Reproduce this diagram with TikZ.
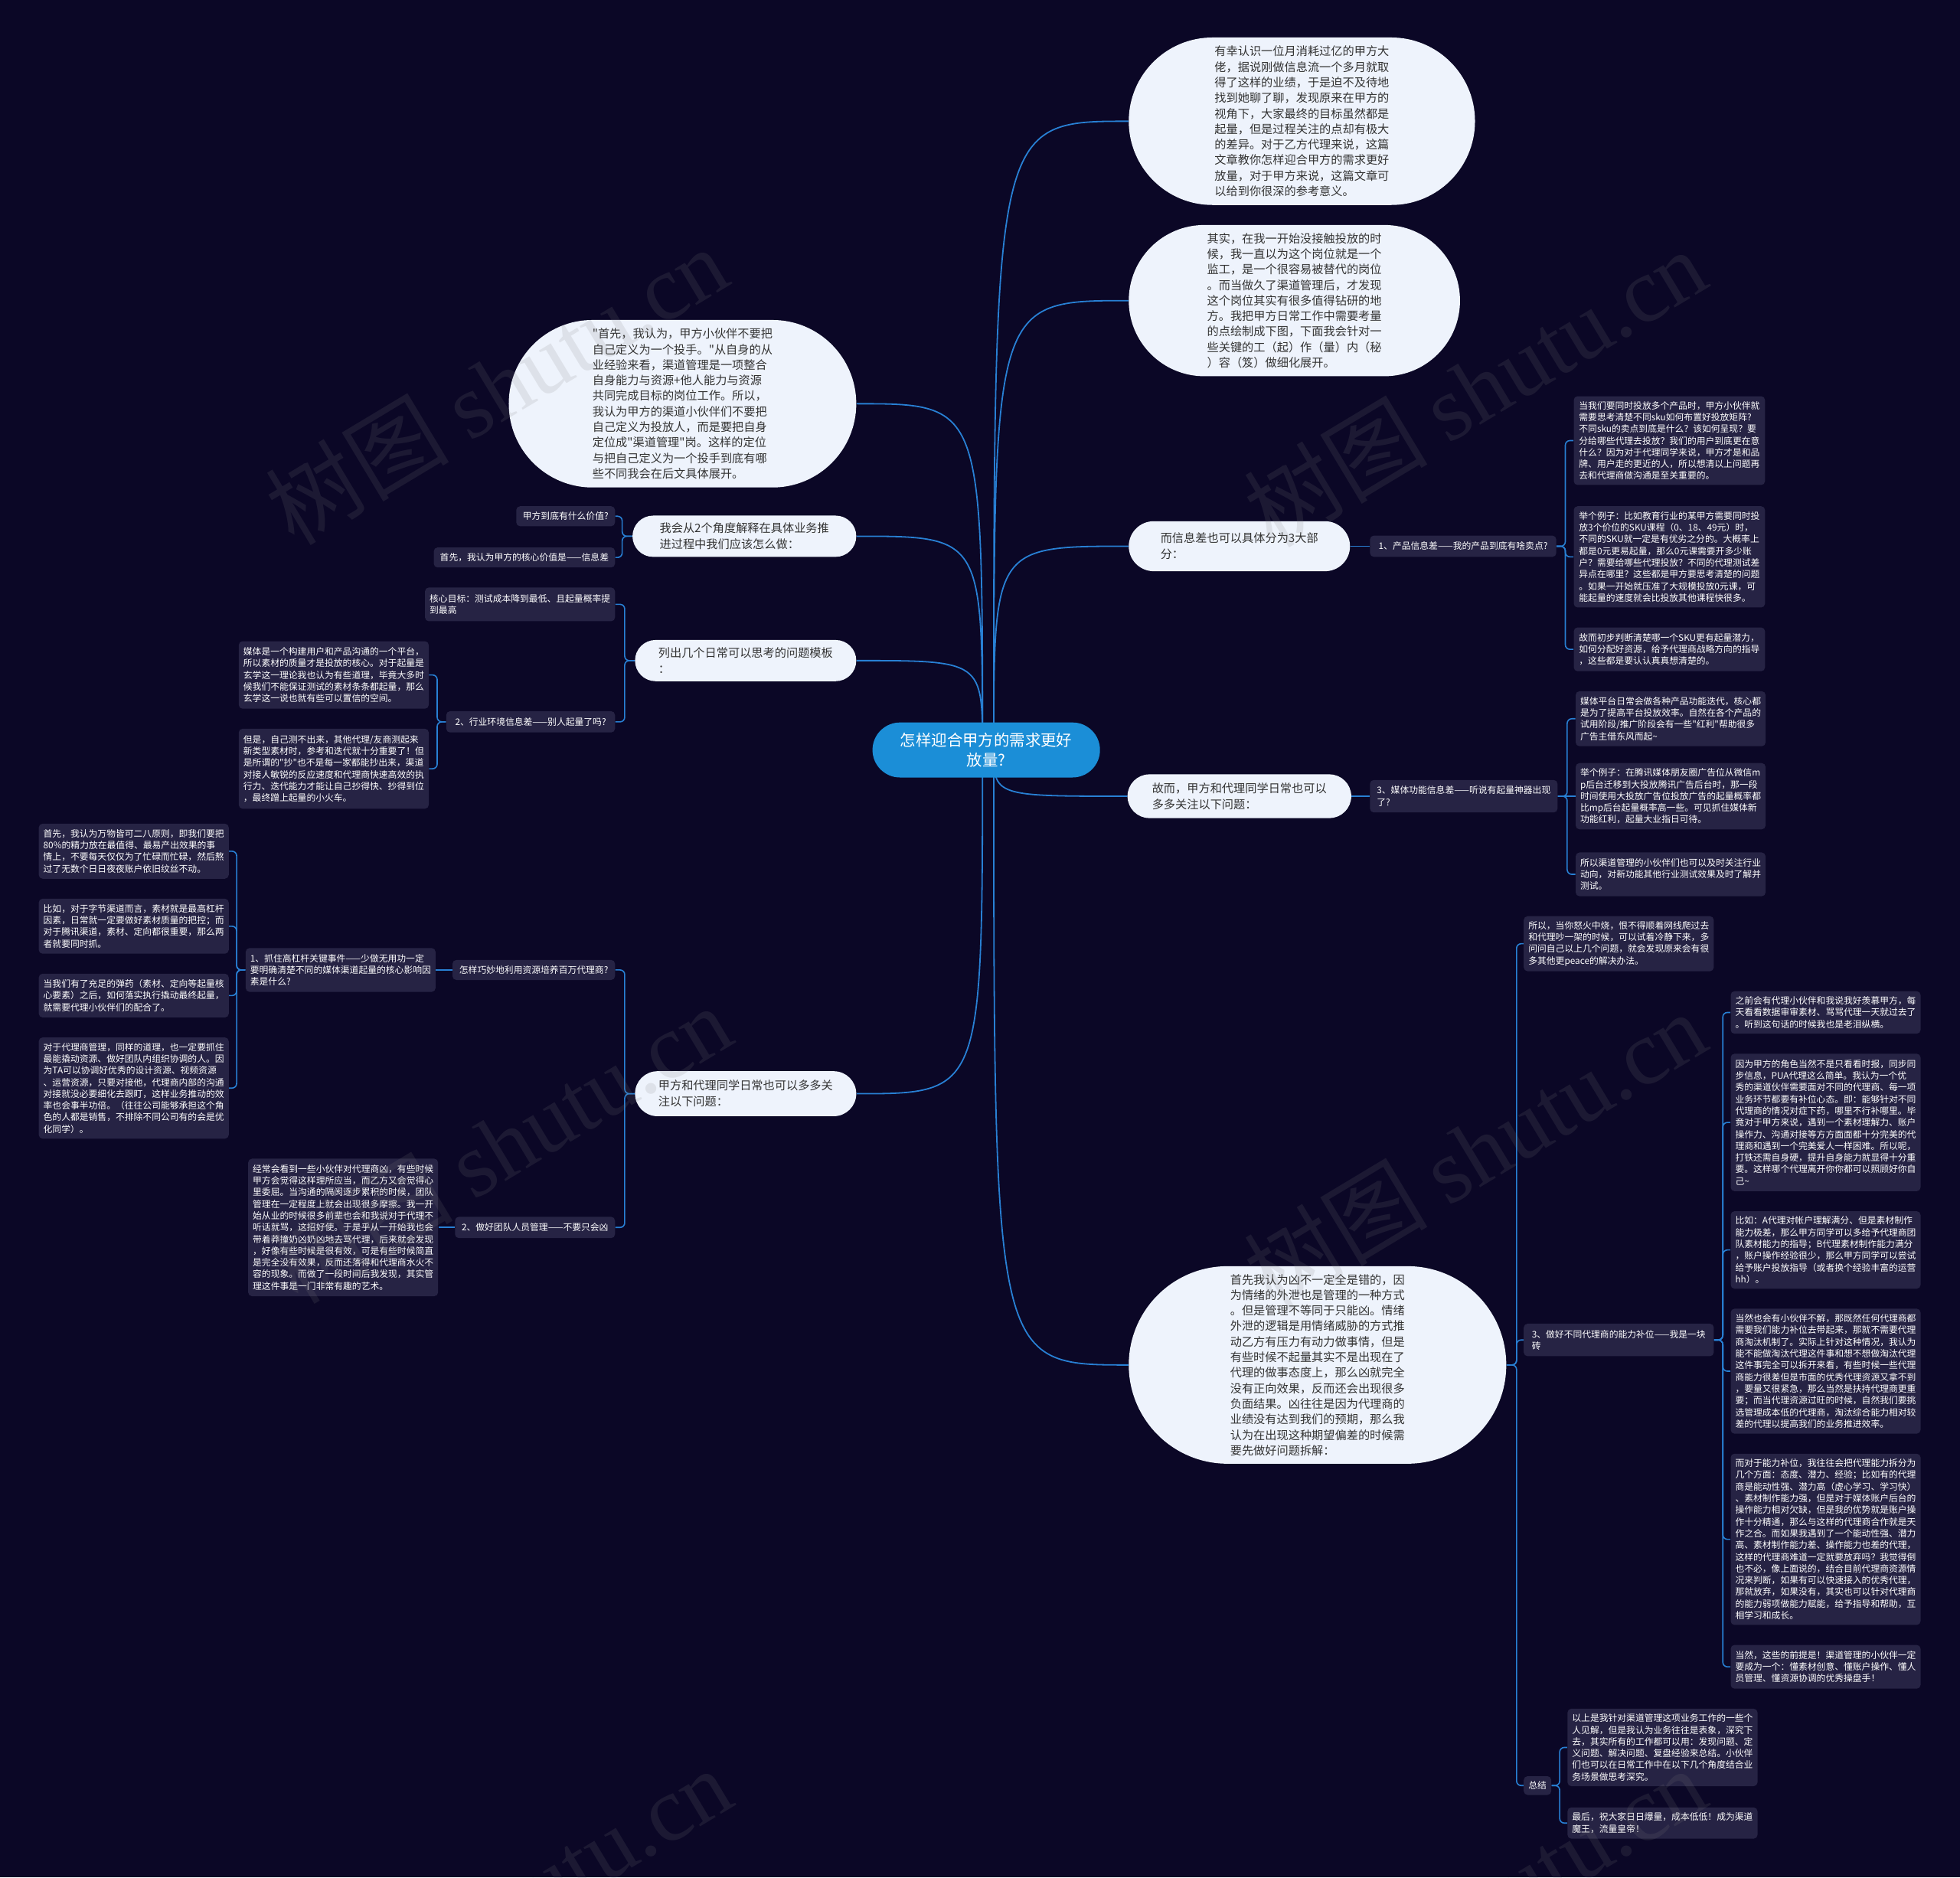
\documentclass[tikz,border=0pt]{standalone}
\usepackage{fontspec}
\setmainfont{Noto Sans CJK SC}[Ligatures=TeXOff]
\newfontfamily\wmlatin{Liberation Serif}
\usetikzlibrary{backgrounds,calc}
\definecolor{bgc}{RGB}{11,7,38}
\definecolor{notec}{RGB}{38,35,68}
\definecolor{pillc}{RGB}{238,243,252}
\definecolor{pilltxt}{RGB}{51,51,51}
\definecolor{rootc}{RGB}{27,142,215}
\definecolor{linec}{RGB}{40,128,212}
\newcommand\px{0.8163pt}
\newcommand\notefont{\fontsize{5.9pt}{7.65pt}\selectfont}
\newcommand\pillfont{\fontsize{7.6pt}{10.6pt}\selectfont}
\newcommand\bubblefont{\fontsize{7.6pt}{10.15pt}\selectfont}
\newcommand\rootfont{\fontsize{10.2pt}{13.1pt}\selectfont}
\newcommand\wmfont{\fontsize{60pt}{62pt}\selectfont}
\tikzset{
  note/.style={fill=notec, text=white, rounded corners=2.5pt, font=\notefont, align=left, inner xsep=3pt, inner ysep=2pt},
  lite/.style={fill=pillc, text=pilltxt, align=left, inner sep=2pt},
  pill/.style={lite, font=\pillfont},
  bubble/.style={lite, font=\bubblefont},
  rootbox/.style={fill=rootc, text=white, font=\rootfont, align=center},
  link/.style={draw=linec, line width=0.8pt, rounded corners=3pt},
  trunk/.style={draw=linec, line width=0.9pt},
  wm/.style={text=gray, text opacity=0.15, font=\wmfont, rotate=31}
}
\begin{document}
\begin{tikzpicture}[x=\px, y=-\px]
\useasboundingbox (0,0) rectangle (1568,1502);

% ---------- root ----------
\node[rootbox, minimum width=182*\px, minimum height=44*\px, rounded corners=22*\px] (root) at (789,600) {怎样迎合甲方的需求更好\\放量?};

% ---------- right side ----------
\node[bubble, minimum width=277*\px, minimum height=134*\px, rounded corners=67*\px] (E1) at (1041.5,97) {有幸认识一位月消耗过亿的甲方大\\佬，据说刚做信息流一个多月就取\\得了这样的业绩，于是迫不及待地\\找到她聊了聊，发现原来在甲方的\\视角下，大家最终的目标虽然都是\\起量，但是过程关注的点却有极大\\的差异。对于乙方代理来说，这篇\\文章教你怎样迎合甲方的需求更好\\放量，对于甲方来说，这篇文章可\\以给到你很深的参考意义。};

\node[bubble, minimum width=265*\px, minimum height=121*\px, rounded corners=60.5*\px] (E2) at (1035.5,240.5) {其实，在我一开始没接触投放的时\\候，我一直以为这个岗位就是一个\\监工，是一个很容易被替代的岗位\\。而当做久了渠道管理后，才发现\\这个岗位其实有很多值得钻研的地\\方。我把甲方日常工作中需要考量\\的点绘制成下图，下面我会针对一\\些关键的工（起）作（量）内（秘\\）容（笈）做细化展开。};

\node[pill, minimum width=177*\px, minimum height=40*\px, rounded corners=20*\px] (PX) at (991.5,437) {而信息差也可以具体分为3大部\\分：};
\node[note, minimum width=149*\px, minimum height=17*\px] (Cp) at (1170.5,437) {1、产品信息差——我的产品到底有啥卖点?};
\node[note, minimum width=153*\px, minimum height=71*\px] (Np1) at (1335.5,352.5) {当我们要同时投放多个产品时，甲方小伙伴就\\需要思考清楚不同sku如何布置好投放矩阵?\\不同sku的卖点到底是什么？该如何呈现？要\\分给哪些代理去投放？我们的用户到底更在意\\什么？因为对于代理同学来说，甲方才是和品\\牌、用户走的更近的人，所以想清以上问题再\\去和代理商做沟通是至关重要的。};
\node[note, minimum width=153*\px, minimum height=81*\px] (Np2) at (1335.5,445.5) {举个例子：比如教育行业的某甲方需要同时投\\放3个价位的SKU课程（0、18、49元）时，\\不同的SKU就一定是有优劣之分的。大概率上\\都是0元更易起量，那么0元课需要开多少账\\户？需要给哪些代理投放？不同的代理测试差\\异点在哪里？这些都是甲方要思考清楚的问题\\。如果一开始就压准了大规模投放0元课，可\\能起量的速度就会比投放其他课程快很多。};
\node[note, minimum width=153*\px, minimum height=35*\px] (Np3) at (1335.5,519.5) {故而初步判断清楚哪一个SKU更有起量潜力，\\如何分配好资源，给予代理商战略方向的指导\\，这些都是要认认真真想清楚的。};

\node[pill, minimum width=179*\px, minimum height=35*\px, rounded corners=17.5*\px] (PG) at (991.5,637) {故而，甲方和代理同学日常也可以\\多多关注以下问题：};
\node[note, minimum width=150*\px, minimum height=26*\px] (Cm) at (1171,637) {3、媒体功能信息差——听说有起量神器出现\\了?};
\node[note, minimum width=151*\px, minimum height=44*\px] (Nm1) at (1336.5,575) {媒体平台日常会做各种产品功能迭代，核心都\\是为了提高平台投放效率。自然在各个产品的\\试用阶段/推广阶段会有一些"红利"帮助很多\\广告主借东风而起\textasciitilde};
\node[note, minimum width=151*\px, minimum height=53*\px] (Nm2) at (1336.5,637) {举个例子：在腾讯媒体朋友圈广告位从微信m\\p后台迁移到大投放腾讯广告后台时，那一段\\时间使用大投放广告位投放广告的起量概率都\\比mp后台起量概率高一些。可见抓住媒体新\\功能红利，起量大业指日可待。};
\node[note, minimum width=151*\px, minimum height=35*\px] (Nm3) at (1336.5,699.5) {所以渠道管理的小伙伴们也可以及时关注行业\\动向，对新功能其他行业测试效果及时了解并\\测试。};

\node[bubble, minimum width=302*\px, minimum height=158*\px, rounded corners=79*\px] (E3) at (1054,1092) {首先我认为凶不一定全是错的，因\\为情绪的外泄也是管理的一种方式\\。但是管理不等同于只能凶。情绪\\外泄的逻辑是用情绪威胁的方式推\\动乙方有压力有动力做事情，但是\\有些时候不起量其实不是出现在了\\代理的做事态度上，那么凶就完全\\没有正向效果，反而还会出现很多\\负面结果。凶往往是因为代理商的\\业绩没有达到我们的预期，那么我\\认为在出现这种期望偏差的时候需\\要先做好问题拆解：};

\node[note, minimum width=152*\px, minimum height=44*\px] (Na) at (1295,755) {所以，当你怒火中烧，恨不得顺着网线爬过去\\和代理吵一架的时候，可以试着冷静下来，多\\问问自己以上几个问题，就会发现原来会有很\\多其他更peace的解决办法。};
\node[note, minimum width=152*\px, minimum height=26*\px] (Cb) at (1295,1072) {3、做好不同代理商的能力补位——我是一块\\砖};
\node[note, minimum width=22*\px, minimum height=15*\px, inner xsep=1pt] (Cs) at (1230,1428.5) {总结};

\node[note, minimum width=151*\px, minimum height=34*\px] (Nb1) at (1460.5,810) {之前会有代理小伙伴和我说我好羡慕甲方，每\\天看看数据审审素材、骂骂代理一天就过去了\\。听到这句话的时候我也是老泪纵横。};
\node[note, minimum width=151*\px, minimum height=110*\px] (Nb2) at (1460.5,898) {因为甲方的角色当然不是只看看时报，同步同\\步信息，PUA代理这么简单。我认为一个优\\秀的渠道伙伴需要面对不同的代理商、每一项\\业务环节都要有补位心态。即：能够针对不同\\代理商的情况对症下药，哪里不行补哪里。毕\\竟对于甲方来说，遇到一个素材理解力、账户\\操作力、沟通对接等方方面面都十分完美的代\\理商和遇到一个完美爱人一样困难。所以呢，\\打铁还需自身硬，提升自身能力就显得十分重\\要。这样哪个代理离开你你都可以照顾好你自\\己\textasciitilde};
\node[note, minimum width=151*\px, minimum height=62*\px] (Nb3) at (1460.5,1000) {比如：A代理对帐户理解满分、但是素材制作\\能力极差，那么甲方同学可以多给予代理商团\\队素材能力的指导；B代理素材制作能力满分\\，账户操作经验很少，那么甲方同学可以尝试\\给予账户投放指导（或者换个经验丰富的运营\\hh）。};
\node[note, minimum width=151*\px, minimum height=100*\px] (Nb4) at (1460.5,1097) {当然也会有小伙伴不解，那既然任何代理商都\\需要我们能力补位去带起来，那就不需要代理\\商淘汰机制了。实际上针对这种情况，我认为\\能不能做淘汰代理这件事和想不想做淘汰代理\\这件事完全可以拆开来看，有些时候一些代理\\商能力很差但是市面的优秀代理资源又拿不到\\，要量又很紧急，那么当然是扶持代理商更重\\要；而当代理资源过旺的时候，自然我们要挑\\选管理成本低的代理商，淘汰综合能力相对较\\差的代理以提高我们的业务推进效率。};
\node[note, minimum width=151*\px, minimum height=137*\px] (Nb5) at (1460.5,1231.5) {而对于能力补位，我往往会把代理能力拆分为\\几个方面：态度、潜力、经验；比如有的代理\\商是能动性强、潜力高（虚心学习、学习快）\\、素材制作能力强，但是对于媒体账户后台的\\操作能力相对欠缺，但是我的优势就是账户操\\作十分精通，那么与这样的代理商合作就是天\\作之合。而如果我遇到了一个能动性强、潜力\\高、素材制作能力差、操作能力也差的代理，\\这样的代理商难道一定就要放弃吗？我觉得倒\\也不必，像上面说的，结合目前代理商资源情\\况来判断，如果有可以快速接入的优秀代理，\\那就放弃，如果没有，其实也可以针对代理商\\的能力弱项做能力赋能，给予指导和帮助，互\\相学习和成长。};
\node[note, minimum width=151*\px, minimum height=35*\px] (Nb6) at (1460.5,1333.5) {当然，这些的前提是！渠道管理的小伙伴一定\\要成为一个：懂素材创意、懂账户操作、懂人\\员管理、懂资源协调的优秀操盘手！};

\node[note, minimum width=152*\px, minimum height=62*\px] (Ns1) at (1330,1398) {以上是我针对渠道管理这项业务工作的一些个\\人见解，但是我认为业务往往是表象，深究下\\去，其实所有的工作都可以用：发现问题、定\\义问题、解决问题、复盘经验来总结。小伙伴\\们也可以在日常工作中在以下几个角度结合业\\务场景做思考深究。};
\node[note, minimum width=152*\px, minimum height=25*\px] (Ns2) at (1330,1458.5) {最后，祝大家日日爆量，成本低低！成为渠道\\魔王，流量皇帝！};

% ---------- left side ----------
\node[bubble, minimum width=278*\px, minimum height=134*\px, rounded corners=67*\px] (EL) at (546,323) {"首先，我认为，甲方小伙伴不要把\\自己定义为一个投手。"从自身的从\\业经验来看，渠道管理是一项整合\\自身能力与资源+他人能力与资源\\共同完成目标的岗位工作。所以，\\我认为甲方的渠道小伙伴们不要把\\自己定义为投放人，而是要把自身\\定位成"渠道管理"岗。这样的定位\\与把自己定义为一个投手到底有哪\\些不同我会在后文具体展开。};

\node[pill, minimum width=179*\px, minimum height=33*\px, rounded corners=16.5*\px] (PA) at (595.5,429) {我会从2个角度解释在具体业务推\\进过程中我们应该怎么做：};
\node[note, minimum width=79*\px, minimum height=16*\px] (Cv) at (452.5,413) {甲方到底有什么价值?};
\node[note, minimum width=145*\px, minimum height=16*\px] (Cc) at (419.5,446) {首先，我认为甲方的核心价值是——信息差};

\node[pill, minimum width=177*\px, minimum height=33*\px, rounded corners=16.5*\px] (PL) at (596.5,528.5) {列出几个日常可以思考的问题模板\\：};
\node[note, minimum width=152*\px, minimum height=27*\px] (Cg) at (416,483.5) {核心目标：测试成本降到最低、且起量概率提\\到最高};
\node[note, minimum width=135*\px, minimum height=17*\px] (Ci) at (424.5,577.5) {2、行业环境信息差——别人起量了吗?};
\node[note, minimum width=152*\px, minimum height=54*\px] (Ni1) at (267,540) {媒体是一个构建用户和产品沟通的一个平台，\\所以素材的质量才是投放的核心。对于起量是\\玄学这一理论我也认为有些道理，毕竟大多时\\候我们不能保证测试的素材条条都起量，那么\\玄学这一说也就有些可以置信的空间。};
\node[note, minimum width=152*\px, minimum height=64*\px] (Ni2) at (267,615) {但是，自己测不出来，其他代理/友商测起来\\新类型素材时，参考和迭代就十分重要了！但\\是所谓的"抄"也不是每一家都能抄出来，渠道\\对接人敏锐的反应速度和代理商快速高效的执\\行力、迭代能力才能让自己抄得快、抄得到位\\，最终蹭上起量的小火车。};

\node[pill, minimum width=177*\px, minimum height=36*\px, rounded corners=18*\px] (PB) at (596.5,875) {甲方和代理同学日常也可以多多关\\注以下问题：};
\node[note, minimum width=130*\px, minimum height=16*\px] (Ca) at (427,776) {怎样巧妙地利用资源培养百万代理商?};
\node[note, minimum width=151*\px, minimum height=35*\px] (Cl) at (272.5,776) {1、抓住高杠杆关键事件——少做无用功一定\\要明确清楚不同的媒体渠道起量的核心影响因\\素是什么?};
\node[note, minimum width=152*\px, minimum height=44*\px] (Nl1) at (107,681) {首先，我认为万物皆可二八原则，即我们要把\\80\%的精力放在最值得、最易产出效果的事\\情上，不要每天仅仅为了忙碌而忙碌，然后熬\\过了无数个日日夜夜账户依旧纹丝不动。};
\node[note, minimum width=152*\px, minimum height=44*\px] (Nl2) at (107,741) {比如，对于字节渠道而言，素材就是最高杠杆\\因素，日常就一定要做好素材质量的把控；而\\对于腾讯渠道，素材、定向都很重要，那么两\\者就要同时抓。};
\node[note, minimum width=152*\px, minimum height=35*\px] (Nl3) at (107,796.5) {当我们有了充足的弹药（素材、定向等起量核\\心要素）之后，如何落实执行撬动最终起量，\\就需要代理小伙伴们的配合了。};
\node[note, minimum width=152*\px, minimum height=81*\px] (Nl4) at (107,870.5) {对于代理商管理，同样的道理，也一定要抓住\\最能撬动资源、做好团队内组织协调的人。因\\为TA可以协调好优秀的设计资源、视频资源\\、运营资源，只要对接他，代理商内部的沟通\\对接就没必要细化去跟盯，这样业务推动的效\\率也会事半功倍。（往往公司能够承担这个角\\色的人都是销售，不排除不同公司有的会是优\\化同学）。};

\node[note, minimum width=128*\px, minimum height=17*\px] (Ct) at (428,982) {2、做好团队人员管理——不要只会凶};
\node[note, minimum width=151*\px, minimum height=110*\px] (Nt) at (274.5,982) {经常会看到一些小伙伴对代理商凶，有些时候\\甲方会觉得这样理所应当，而乙方又会觉得心\\里委屈。当沟通的隔阂逐步累积的时候，团队\\管理在一定程度上就会出现很多摩擦。我一开\\始从业的时候很多前辈也会和我说对于代理不\\听话就骂，这招好使。于是乎从一开始我也会\\带着莽撞奶凶奶凶地去骂代理，后来就会发现\\，好像有些时候是很有效，可是有些时候简直\\是完全没有效果，反而还落得和代理商水火不\\容的现象。而做了一段时间后我发现，其实管\\理这件事是一门非常有趣的艺术。};

% ---------- background and connectors ----------
\begin{scope}[on background layer]
\fill[bgc] (0,0) rectangle (1568,1502);
\coordinate (rR) at (795,600);
\coordinate (rL) at (786,600);
\foreach \tgt in {E1,E2,PX,PG,E3}
  \draw[trunk] (rR) .. controls (rR |- \tgt.west) .. (\tgt.west);
\foreach \tgt in {EL,PA,PL,PB}
  \draw[trunk] (rL) .. controls (rL |- \tgt.east) .. (\tgt.east);

\foreach \tgt in {Cv,Cc} \draw[link] (PA.west) -- ++(-8,0) |- (\tgt.east);
\foreach \tgt in {Cg,Ci} \draw[link] (PL.west) -- ++(-8,0) |- (\tgt.east);
\foreach \tgt in {Ni1,Ni2} \draw[link] (Ci.west) -- ++(-7,0) |- (\tgt.east);
\foreach \tgt in {Ca,Ct} \draw[link] (PB.west) -- ++(-8,0) |- (\tgt.east);
\draw[link] (Ca.west) -- (Cl.east);
\foreach \tgt in {Nl1,Nl2,Nl3,Nl4} \draw[link] (Cl.west) -- ++(-7,0) |- (\tgt.east);
\draw[link] (Ct.west) -- (Nt.east);

\draw[link] (PX.east) -- (Cp.west);
\foreach \tgt in {Np1,Np2,Np3} \draw[link] (Cp.east) -- ++(7,0) |- (\tgt.west);
\draw[link] (PG.east) -- (Cm.west);
\foreach \tgt in {Nm1,Nm3} \draw[link] (Cm.east) -- ++(7.5,0) |- (\tgt.west);
\draw[link] (Cm.east) -- (Nm2.west);
\foreach \tgt in {Na,Cb,Cs} \draw[link] (E3.east) -- ++(8,0) |- (\tgt.west);
\foreach \tgt in {Nb1,Nb2,Nb3,Nb4,Nb5,Nb6} \draw[link] (Cb.east) -- ++(7,0) |- (\tgt.west);
\foreach \tgt in {Ns1,Ns2} \draw[link] (Cs.east) -- ++(6.5,0) |- (\tgt.west);
\end{scope}

% ---------- watermark ----------
\node[wm] (wm1) at (397,308) {树图 {\wmlatin shutu.cn}};
\node[wm] (wm2) at (1180,310) {树图 {\wmlatin shutu.cn}};
\node[wm] (wm3) at (400,915) {树图 {\wmlatin shutu.cn}};
\node[wm] (wm4) at (1180,920) {树图 {\wmlatin shutu.cn}};
\node[wm] (wm5) at (400,1525) {树图 {\wmlatin shutu.cn}};
\node[wm] (wm6) at (1180,1525) {树图 {\wmlatin shutu.cn}};
\end{tikzpicture}
\end{document}
